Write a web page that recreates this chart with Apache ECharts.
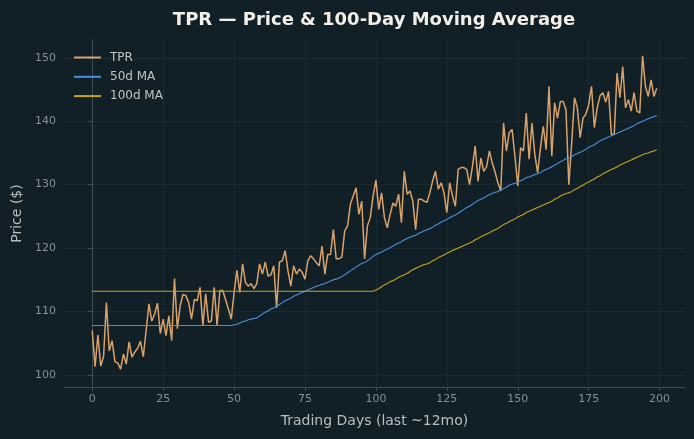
<!DOCTYPE html>
<html>
<head>
<meta charset="utf-8">
<script src="https://cdn.jsdelivr.net/npm/echarts@6/dist/echarts.min.js"></script>
<style>
  html, body { margin: 0; padding: 0; background: #111f26; }
  #chart { width: 694px; height: 439px; }
</style>
</head>
<body>
<div id="chart"></div>
<script>
// TPR closing prices, last ~200 trading days
const price = [
  107.0, 101.3, 106.3, 101.4, 102.9, 111.4, 103.8, 105.4, 102.1, 101.9,
  100.9, 103.3, 101.7, 105.2, 102.8, 103.6, 104.2, 105.3, 102.9, 107.0,
  111.2, 108.5, 109.6, 111.3, 106.5, 108.8, 106.2, 109.3, 105.4, 115.2,
  107.3, 110.9, 112.7, 112.5, 111.4, 108.8, 111.9, 111.7, 113.8, 107.8,
  112.8, 108.3, 108.5, 113.8, 107.8, 113.3, 113.3, 111.9, 110.4, 108.8,
  113.0, 116.5, 113.0, 117.5, 114.6, 114.0, 114.4, 113.6, 114.4, 117.5,
  115.9, 117.8, 115.6, 115.8, 117.2, 110.6, 117.8, 118.0, 119.6, 116.4,
  114.0, 117.2, 115.9, 116.7, 116.2, 115.1, 118.0, 118.8, 118.3, 117.7,
  117.2, 120.3, 115.9, 119.0, 119.0, 122.9, 118.3, 118.3, 118.6, 122.7,
  123.5, 126.9, 128.2, 129.5, 125.3, 127.4, 118.3, 123.5, 124.8, 128.2,
  130.7, 126.1, 128.7, 124.8, 123.2, 125.3, 127.1, 126.6, 128.5, 124.0,
  132.1, 128.5, 129.0, 127.4, 122.9, 127.7, 127.7, 127.4, 127.2, 128.7,
  130.6, 132.1, 129.3, 130.3, 128.7, 125.6, 130.3, 128.2, 126.6, 132.4,
  132.7, 132.7, 132.4, 130.0, 132.8, 136.1, 130.5, 134.2, 132.1, 132.8,
  135.3, 133.4, 132.0, 130.3, 129.0, 139.7, 135.3, 138.2, 138.7, 134.5,
  129.8, 135.8, 135.3, 141.3, 134.0, 139.7, 134.8, 131.9, 135.8, 139.2,
  135.5, 145.5, 134.5, 142.9, 140.5, 143.1, 143.1, 141.8, 130.0, 136.5,
  143.7, 142.1, 137.4, 140.5, 141.1, 142.6, 145.5, 139.0, 142.1, 144.0,
  144.5, 143.0, 144.7, 137.9, 137.9, 147.6, 143.7, 148.6, 142.1, 143.4,
  141.6, 144.5, 141.6, 141.3, 150.3, 145.5, 143.9, 146.5, 143.9, 145.2
];

// 50-day moving average (flat start = back-filled window)
const ma50 = [
  107.8, 107.8, 107.8, 107.8, 107.8, 107.8, 107.8, 107.8, 107.8, 107.8,
  107.8, 107.8, 107.8, 107.8, 107.8, 107.8, 107.8, 107.8, 107.8, 107.8,
  107.8, 107.8, 107.8, 107.8, 107.8, 107.8, 107.8, 107.8, 107.8, 107.8,
  107.8, 107.8, 107.8, 107.8, 107.8, 107.8, 107.8, 107.8, 107.8, 107.8,
  107.8, 107.8, 107.8, 107.8, 107.8, 107.8, 107.8, 107.8, 107.8, 107.8,
  107.9, 108.0, 108.2, 108.4, 108.5, 108.7, 108.8, 108.9, 109.0, 109.3,
  109.6, 109.9, 110.1, 110.4, 110.6, 110.8, 111.1, 111.4, 111.7, 111.9,
  112.1, 112.4, 112.6, 112.8, 113.0, 113.2, 113.4, 113.6, 113.8, 114.0,
  114.1, 114.3, 114.4, 114.6, 114.8, 115.0, 115.1, 115.3, 115.5, 115.8,
  116.1, 116.4, 116.7, 117.0, 117.3, 117.6, 117.7, 118.0, 118.3, 118.7,
  119.0, 119.2, 119.4, 119.6, 119.8, 120.1, 120.3, 120.6, 120.8, 121.0,
  121.3, 121.5, 121.7, 121.9, 122.0, 122.3, 122.5, 122.7, 122.9, 123.1,
  123.3, 123.6, 123.8, 124.1, 124.3, 124.5, 124.8, 125.0, 125.2, 125.5,
  125.8, 126.1, 126.4, 126.6, 126.9, 127.2, 127.5, 127.7, 127.9, 128.2,
  128.4, 128.6, 128.8, 128.9, 129.1, 129.4, 129.6, 129.9, 130.1, 130.2,
  130.4, 130.6, 130.8, 131.1, 131.2, 131.4, 131.6, 131.7, 131.9, 132.2,
  132.4, 132.6, 132.8, 133.1, 133.3, 133.6, 133.8, 134.1, 134.2, 134.4,
  134.7, 134.9, 135.1, 135.3, 135.6, 135.9, 136.1, 136.3, 136.6, 136.9,
  137.1, 137.3, 137.5, 137.7, 137.9, 138.1, 138.3, 138.5, 138.7, 138.9,
  139.1, 139.3, 139.6, 139.8, 140.0, 140.2, 140.4, 140.6, 140.7, 140.9
];

// 100-day moving average
const ma100 = [
  113.2, 113.2, 113.2, 113.2, 113.2, 113.2, 113.2, 113.2, 113.2, 113.2,
  113.2, 113.2, 113.2, 113.2, 113.2, 113.2, 113.2, 113.2, 113.2, 113.2,
  113.2, 113.2, 113.2, 113.2, 113.2, 113.2, 113.2, 113.2, 113.2, 113.2,
  113.2, 113.2, 113.2, 113.2, 113.2, 113.2, 113.2, 113.2, 113.2, 113.2,
  113.2, 113.2, 113.2, 113.2, 113.2, 113.2, 113.2, 113.2, 113.2, 113.2,
  113.2, 113.2, 113.2, 113.2, 113.2, 113.2, 113.2, 113.2, 113.2, 113.2,
  113.2, 113.2, 113.2, 113.2, 113.2, 113.2, 113.2, 113.2, 113.2, 113.2,
  113.2, 113.2, 113.2, 113.2, 113.2, 113.2, 113.2, 113.2, 113.2, 113.2,
  113.2, 113.2, 113.2, 113.2, 113.2, 113.2, 113.2, 113.2, 113.2, 113.2,
  113.2, 113.2, 113.2, 113.2, 113.2, 113.2, 113.2, 113.2, 113.2, 113.2,
  113.4, 113.6, 113.9, 114.2, 114.4, 114.7, 114.9, 115.1, 115.4, 115.6,
  115.8, 116.0, 116.3, 116.6, 116.8, 117.0, 117.2, 117.4, 117.5, 117.7,
  118.0, 118.2, 118.5, 118.7, 118.9, 119.2, 119.4, 119.6, 119.8, 120.0,
  120.2, 120.4, 120.6, 120.8, 121.0, 121.3, 121.5, 121.8, 122.0, 122.2,
  122.4, 122.7, 122.9, 123.1, 123.4, 123.7, 123.9, 124.2, 124.4, 124.6,
  124.9, 125.1, 125.3, 125.6, 125.8, 126.0, 126.2, 126.4, 126.6, 126.8,
  127.0, 127.2, 127.4, 127.7, 127.9, 128.2, 128.4, 128.6, 128.7, 128.9,
  129.2, 129.4, 129.7, 129.9, 130.2, 130.4, 130.7, 130.9, 131.2, 131.4,
  131.7, 131.9, 132.2, 132.4, 132.6, 132.8, 133.1, 133.3, 133.5, 133.7,
  133.9, 134.1, 134.3, 134.5, 134.7, 134.9, 135.0, 135.2, 135.3, 135.5
];

const xTicks = [0, 25, 50, 75, 100, 125, 150, 175, 200];
const yTicks = [100, 110, 120, 130, 140, 150];

const FONT = 'DejaVu Sans';
const pairs = arr => arr.map((v, i) => [i, v]);

const chart = echarts.init(document.getElementById('chart'), null, { renderer: 'canvas' });

chart.setOption({
  backgroundColor: '#111f26',
  animation: false,
  title: {
    text: 'TPR — Price & 100-Day Moving Average',
    left: 369, top: 6, textAlign: 'center',
    textStyle: { color: '#f2efe8', fontFamily: FONT, fontSize: 18, fontWeight: 'bold' },
  },
  legend: {
    orient: 'vertical',
    left: 74, top: 50.5, padding: 0,
    itemWidth: 27, itemHeight: 2, itemGap: 5.3,
    data: [
      { name: 'TPR', icon: 'rect' },
      { name: '50d MA', icon: 'rect' },
      { name: '100d MA', icon: 'rect' },
    ],
    textStyle: { color: '#c2c4c2', fontFamily: FONT, fontSize: 12, lineHeight: 14, padding: [0, 0, 0, 4] },
  },
  grid: { left: 64, right: 9, top: 40, bottom: 52 },
  xAxis: {
    type: 'value',
    min: -9.95, max: 208.95,
    name: 'Trading Days (last ~12mo)',
    nameLocation: 'middle', nameGap: 27,
    nameTextStyle: { color: '#b9bdbd', fontFamily: FONT, fontSize: 14 },
    axisLine: { onZero: false, lineStyle: { color: '#3e4d54' } },
    axisTick: { customValues: xTicks, length: 4, lineStyle: { color: '#3e4d54' } },
    axisLabel: { customValues: xTicks, color: '#878f94', fontFamily: FONT, fontSize: 11, margin: 7 },
    splitLine: { show: true, customValues: xTicks, lineStyle: { color: '#192a31', width: 1 } },
  },
  yAxis: {
    type: 'value',
    min: 98.1, max: 152.8,
    name: 'Price ($)',
    nameLocation: 'middle', nameGap: 40, nameRotate: 90,
    nameTextStyle: { color: '#b9bdbd', fontFamily: FONT, fontSize: 14 },
    axisLine: { show: true, lineStyle: { color: '#3e4d54' } },
    axisTick: { show: true, customValues: yTicks, length: 4, lineStyle: { color: '#3e4d54' } },
    axisLabel: { customValues: yTicks, color: '#878f94', fontFamily: FONT, fontSize: 11, margin: 8 },
    splitLine: { show: true, customValues: yTicks, lineStyle: { color: '#192a31', width: 1 } },
  },
  series: [
    {
      name: 'TPR', type: 'line', data: pairs(price),
      symbol: 'none', lineStyle: { color: '#d9a26a', width: 1.5 },
      itemStyle: { color: '#d9a26a' },
    },
    {
      name: '50d MA', type: 'line', data: pairs(ma50),
      symbol: 'none', lineStyle: { color: '#4a8fdb', width: 1.1 },
      itemStyle: { color: '#4a8fdb' },
    },
    {
      name: '100d MA', type: 'line', data: pairs(ma100),
      symbol: 'none', lineStyle: { color: '#c9a31c', width: 1.1 },
      itemStyle: { color: '#c9a31c' },
    },
  ],
});
</script>
</body>
</html>
